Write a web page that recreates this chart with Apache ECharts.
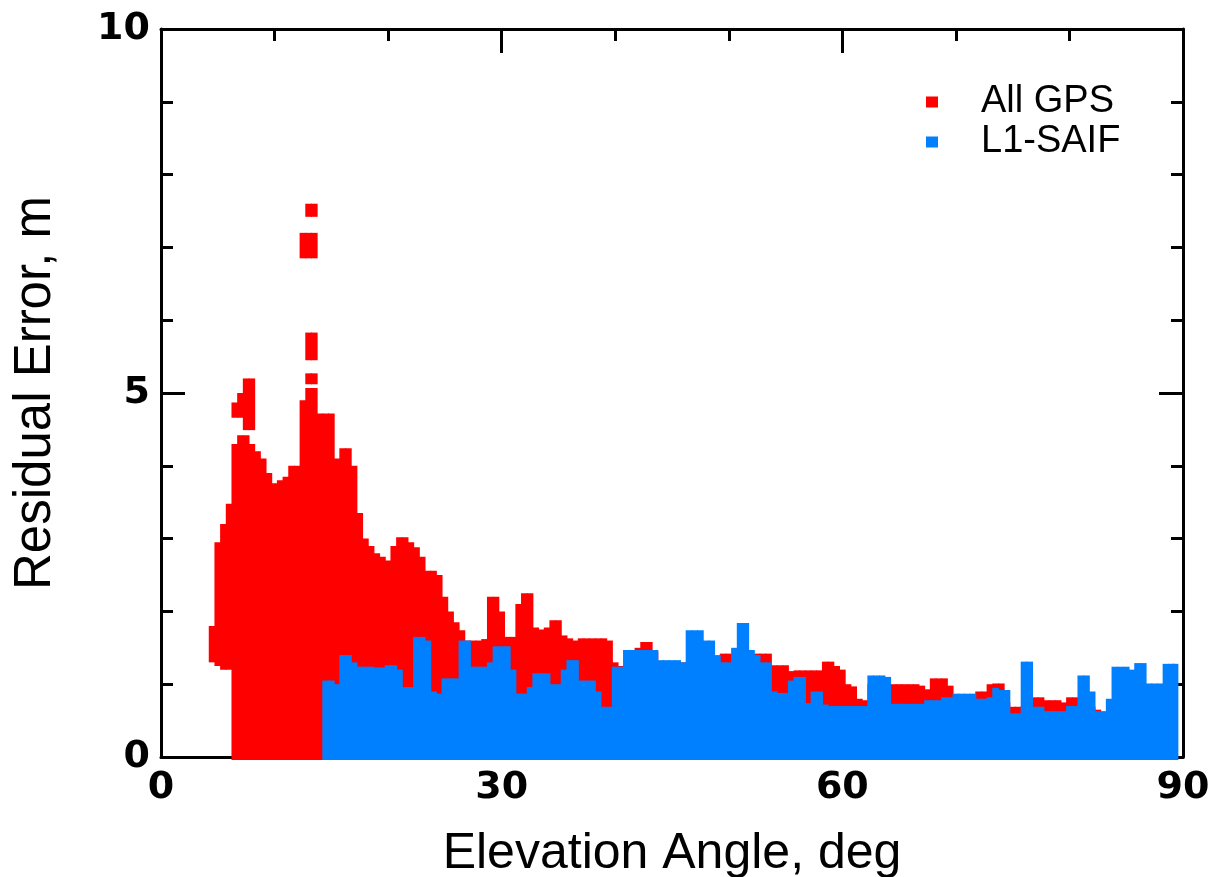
<!DOCTYPE html>
<html>
<head>
<meta charset="utf-8">
<script src="https://cdn.jsdelivr.net/npm/echarts@6/dist/echarts.min.js"></script>
<style>
  html, body { margin: 0; padding: 0; background: #fff; }
  #chart { width: 1212px; height: 877px; }
</style>
</head>
<body>
<div id="chart"></div>
<script>
// residual error envelope per 0.5 deg elevation bin: [elevation, low, high]
var allGpsCols = [
  [4.5, 1.3, 1.8], [5, 1.25, 2.95], [5.5, 1.2, 3.2], [6, 1.2, 3.48], [6.5, 0, 4.3], [7, 0, 4.42],
  [7.5, 0, 4.42], [8, 0, 4.3], [8.5, 0, 4.2], [9, 0, 4.1], [9.5, 0, 3.9], [10, 0, 3.76],
  [10.5, 0, 3.8], [11, 0, 3.85], [11.5, 0, 4.0], [12, 0, 4.0], [12.5, 0, 4.9], [13, 0, 5.07],
  [13.5, 0, 5.07], [14, 0, 4.72], [14.5, 0, 4.72], [15, 0, 4.72], [15.5, 0, 4.1], [16, 0, 4.24],
  [16.5, 0, 4.24], [17, 0, 4.0], [17.5, 0, 3.35], [18, 0, 3.0], [18.5, 0, 2.9], [19, 0, 2.8],
  [19.5, 0, 2.75], [20, 0, 2.7], [20.5, 0, 2.9], [21, 0, 3.02], [21.5, 0, 3.02], [22, 0, 2.95],
  [22.5, 0, 2.88], [23, 0, 2.75], [23.5, 0, 2.56], [24, 0, 2.56], [24.5, 0, 2.5], [25, 0, 2.2],
  [25.5, 0, 2.0], [26, 0, 1.85], [26.5, 0, 1.74], [27, 0, 1.6], [27.5, 0, 1.6], [28, 0, 1.6],
  [28.5, 0, 1.62], [29, 0, 2.2], [29.5, 0, 2.2], [30, 0, 2.0], [30.5, 0, 1.65], [31, 0, 1.65],
  [31.5, 0, 2.1], [32, 0, 2.25], [32.5, 0, 2.25], [33, 0, 1.78], [33.5, 0, 1.75], [34, 0, 1.78],
  [34.5, 0, 1.88], [35, 0, 1.88], [35.5, 0, 1.67], [36, 0, 1.63], [36.5, 0, 1.6], [37, 0, 1.63],
  [37.5, 0, 1.63], [38, 0, 1.63], [38.5, 0, 1.63], [39, 0, 1.63], [39.5, 0, 1.6], [40, 0, 1.3],
  [40.5, 0, 1.25], [41, 0, 1.47], [41.5, 0, 1.47], [42, 0, 1.5], [42.5, 0, 1.58], [43, 0, 1.58],
  [43.5, 0, 1.45], [44, 0, 1.3], [44.5, 0, 1.3], [45, 0, 1.3], [45.5, 0, 1.3], [46, 0, 1.3],
  [46.5, 0, 1.3], [47, 0, 1.3], [47.5, 0, 1.3], [48, 0, 1.3], [48.5, 0, 1.3], [49, 0, 1.35],
  [49.5, 0, 1.42], [50, 0, 1.42], [50.5, 0, 1.4], [51, 0, 1.4], [51.5, 0, 1.4], [52, 0, 1.4],
  [52.5, 0, 1.42], [53, 0, 1.42], [53.5, 0, 1.42], [54, 0, 1.26], [54.5, 0, 1.26], [55, 0, 1.26],
  [55.5, 0, 1.18], [56, 0, 1.19], [56.5, 0, 1.19], [57, 0, 1.19], [57.5, 0, 1.19], [58, 0, 1.19],
  [58.5, 0, 1.31], [59, 0, 1.31], [59.5, 0, 1.25], [60, 0, 1.2], [60.5, 0, 1.0], [61, 0, 0.97],
  [61.5, 0, 0.8], [62, 0, 0.78], [62.5, 0, 1.0], [63, 0, 1.0], [63.5, 0, 1.0], [64, 0, 1.0],
  [64.5, 0, 1.0], [65, 0, 1.0], [65.5, 0, 1.0], [66, 0, 1.0], [66.5, 0, 1.0], [67, 0, 0.98],
  [67.5, 0, 0.93], [68, 0, 1.08], [68.5, 0, 1.08], [69, 0, 1.08], [69.5, 0, 0.98], [70, 0, 0.85],
  [70.5, 0, 0.85], [71, 0, 0.85], [71.5, 0, 0.85], [72, 0, 0.9], [72.5, 0, 0.9], [73, 0, 1.0],
  [73.5, 0, 1.01], [74, 0, 1.01], [74.5, 0, 0.75], [75, 0, 0.69], [75.5, 0, 0.69], [76, 0, 0.7],
  [76.5, 0, 0.7], [77, 0, 0.82], [77.5, 0, 0.82], [78, 0, 0.78], [78.5, 0, 0.78], [79, 0, 0.78],
  [79.5, 0, 0.75], [80, 0, 0.82], [80.5, 0, 0.82], [81, 0, 0.7], [81.5, 0, 0.7], [82, 0, 0.69],
  [82.5, 0, 0.65]
];

// detached clusters of All GPS points above the main body
var allGpsIsolated = [
  [6.5, 4.66, 4.87], [7, 4.66, 5.0], [7.5, 4.49, 5.2], [8, 4.49, 5.2],
  [13, 5.12, 5.27], [13.5, 5.12, 5.27],
  [13, 5.45, 5.83], [13.5, 5.45, 5.83],
  [12.5, 6.85, 7.2], [13, 6.85, 7.2], [13.5, 6.85, 7.2],
  [13, 7.42, 7.6], [13.5, 7.42, 7.6]
];

// L1-SAIF top of the point cloud per bin: [elevation, high]
var l1SaifTop = [
  [14.5, 1.05], [15, 1.05], [15.5, 1.0], [16, 1.4], [16.5, 1.4], [17, 1.3], [17.5, 1.24],
  [18, 1.24], [18.5, 1.24], [19, 1.23], [19.5, 1.23], [20, 1.26], [20.5, 1.26], [21, 1.2],
  [21.5, 0.96], [22, 0.96], [22.5, 1.65], [23, 1.65], [23.5, 1.6], [24, 0.9], [24.5, 0.87],
  [25, 1.08], [25.5, 1.08], [26, 1.08], [26.5, 1.6], [27, 1.6], [27.5, 1.24], [28, 1.24],
  [28.5, 1.24], [29, 1.3], [29.5, 1.52], [30, 1.52], [30.5, 1.52], [31, 1.2], [31.5, 0.87],
  [32, 0.87], [32.5, 0.96], [33, 1.15], [33.5, 1.15], [34, 1.15], [34.5, 1.0], [35, 1.0],
  [35.5, 1.2], [36, 1.33], [36.5, 1.33], [37, 1.05], [37.5, 1.05], [38, 1.05], [38.5, 0.9],
  [39, 0.69], [39.5, 0.69], [40, 1.24], [40.5, 1.24], [41, 1.47], [41.5, 1.47], [42, 1.47],
  [42.5, 1.47], [43, 1.47], [43.5, 1.47], [44, 1.33], [44.5, 1.33], [45, 1.33], [45.5, 1.33],
  [46, 1.3], [46.5, 1.74], [47, 1.74], [47.5, 1.74], [48, 1.6], [48.5, 1.6], [49, 1.4],
  [49.5, 1.3], [50, 1.3], [50.5, 1.5], [51, 1.84], [51.5, 1.84], [52, 1.47], [52.5, 1.4],
  [53, 1.3], [53.5, 1.3], [54, 0.9], [54.5, 0.88], [55, 0.88], [55.5, 1.05], [56, 1.1],
  [56.5, 1.1], [57, 0.74], [57.5, 0.9], [58, 0.9], [58.5, 0.72], [59, 0.7], [59.5, 0.7],
  [60, 0.7], [60.5, 0.7], [61, 0.7], [61.5, 0.7], [62, 0.7], [62.5, 1.12], [63, 1.12],
  [63.5, 1.12], [64, 1.1], [64.5, 0.73], [65, 0.73], [65.5, 0.73], [66, 0.73], [66.5, 0.73],
  [67, 0.73], [67.5, 0.78], [68, 0.78], [68.5, 0.78], [69, 0.82], [69.5, 0.82], [70, 0.87],
  [70.5, 0.87], [71, 0.87], [71.5, 0.87], [72, 0.8], [72.5, 0.8], [73, 0.82], [73.5, 0.95],
  [74, 0.92], [74.5, 0.92], [75, 0.6], [75.5, 0.6], [76, 1.31], [76.5, 1.31], [77, 0.69],
  [77.5, 0.69], [78, 0.63], [78.5, 0.63], [79, 0.63], [79.5, 0.63], [80, 0.7], [80.5, 0.7],
  [81, 1.12], [81.5, 1.12], [82, 0.9], [82.5, 0.63], [83, 0.63], [83.5, 0.8], [84, 1.24],
  [84.5, 1.24], [85, 1.24], [85.5, 1.2], [86, 1.29], [86.5, 1.29], [87, 1.01], [87.5, 1.01],
  [88, 1.01], [88.5, 1.28], [89, 1.28], [89.3, 1.28]
];

var xTicks = [0, 30, 60, 90];
var yTicks = [0, 5, 10];

var binHalf = 0.25;

function renderColumn(params, api) {
  var x = api.value(0), lo = api.value(1), hi = api.value(2);
  var a = api.coord([x - binHalf, hi]);
  var b = api.coord([x + binHalf, lo]);
  var pad = lo === 0 ? 3 : 0;
  return {
    type: 'rect',
    shape: { x: a[0] - 0.5, y: a[1], width: b[0] - a[0] + 1, height: b[1] - a[1] + pad },
    style: { fill: api.visual('color') }
  };
}

var tickFont = {
  color: '#000',
  fontFamily: 'DejaVu Sans',
  fontWeight: 'bold',
  fontSize: 38
};

function frameAxis(extra) {
  var base = {
    axisLine: { show: true, onZero: false, lineStyle: { color: '#000', width: 3 } },
    axisTick: { show: true, inside: true, length: 24, lineStyle: { color: '#000', width: 3 } },
    minorTick: { show: true, length: 12, lineStyle: { color: '#000', width: 3 } },
    splitLine: { show: false },
    minorSplitLine: { show: false }
  };
  return Object.assign(base, extra);
}

var myChart = echarts.init(document.getElementById('chart'));
var option = {
  backgroundColor: '#fff',
  animation: false,
  grid: {
    left: 161,
    right: 29,
    top: 29,
    bottom: 120,
    containLabel: false,
    outerBoundsMode: 'none'
  },
  legend: {
    orient: 'vertical',
    left: 921,
    top: 78,
    icon: 'rect',
    itemWidth: 12,
    itemHeight: 11,
    itemGap: 2,
    textStyle: {
      color: '#000',
      fontFamily: 'Liberation Sans',
      fontSize: 38,
      lineHeight: 38,
      padding: [0, 0, 0, 38]
    },
    data: ['All GPS', 'L1-SAIF']
  },
  xAxis: [
    frameAxis({
      type: 'value',
      position: 'bottom',
      min: xTicks[0],
      max: xTicks[xTicks.length - 1],
      interval: 30,
      minorTick: { show: true, splitNumber: 3, length: 12, lineStyle: { color: '#000', width: 3 } },
      axisLabel: Object.assign({ margin: 12 }, tickFont),
      name: 'Elevation Angle, deg',
      nameLocation: 'middle',
      nameGap: 72,
      nameTextStyle: { color: '#000', fontFamily: 'Liberation Sans', fontSize: 50 }
    }),
    frameAxis({
      type: 'value',
      position: 'top',
      min: xTicks[0],
      max: xTicks[xTicks.length - 1],
      interval: 30,
      minorTick: { show: true, splitNumber: 3, length: 12, lineStyle: { color: '#000', width: 3 } },
      axisLabel: { show: false }
    })
  ],
  yAxis: [
    frameAxis({
      type: 'value',
      position: 'left',
      min: yTicks[0],
      max: yTicks[yTicks.length - 1],
      interval: 5,
      minorTick: { show: true, splitNumber: 5, length: 12, lineStyle: { color: '#000', width: 3 } },
      axisLabel: Object.assign({ margin: 11 }, tickFont),
      name: 'Residual Error, m',
      nameLocation: 'middle',
      nameGap: 100,
      nameTextStyle: { color: '#000', fontFamily: 'Liberation Sans', fontSize: 51 }
    }),
    frameAxis({
      type: 'value',
      position: 'right',
      min: yTicks[0],
      max: yTicks[yTicks.length - 1],
      interval: 5,
      minorTick: { show: true, splitNumber: 5, length: 12, lineStyle: { color: '#000', width: 3 } },
      axisLabel: { show: false }
    })
  ],
  series: [{
    name: 'All GPS',
    type: 'custom',
    clip: false,
    itemStyle: { color: '#ff0000' },
    encode: { x: 0, y: [1, 2] },
    renderItem: renderColumn,
    data: allGpsCols.concat(allGpsIsolated)
  }, {
    name: 'L1-SAIF',
    type: 'custom',
    clip: false,
    itemStyle: { color: '#0080ff' },
    encode: { x: 0, y: [1, 2] },
    renderItem: renderColumn,
    data: l1SaifTop.map(function (d) { return [d[0], 0, d[1]]; })
  }]
};
myChart.setOption(option);

window.addEventListener('resize', function () {
  myChart.resize();
});
</script>
</body>
</html>
